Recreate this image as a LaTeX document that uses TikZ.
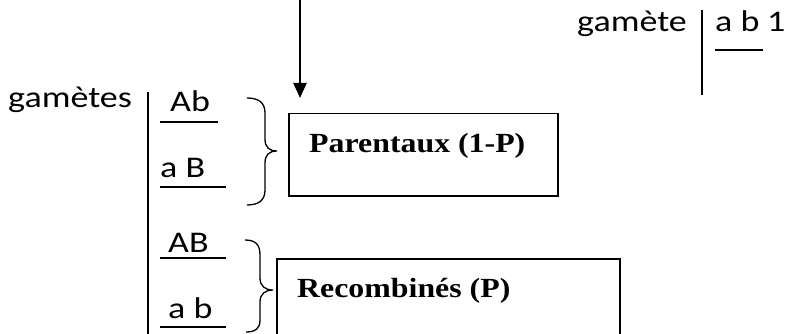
\documentclass[tikz,border=0pt]{standalone}
\usepackage{fontspec}
\setmainfont{Liberation Serif}
\newfontfamily\calfont{Carlito}
\usetikzlibrary{arrows.meta}
\tikzset{
 lbl/.style={inner sep=0pt, anchor=base west, font=\calfont\fontsize{30}{35}\selectfont},
 box/.style={draw, line width=1.5pt, inner sep=0pt, anchor=north west},
 btxt/.style={inner sep=0pt, anchor=base west, font=\bfseries\fontsize{27.7}{32}\selectfont},
 uline/.style={line width=1.4pt},
 vline/.style={line width=1.1pt},
 brc/.style={line width=1.3pt},
 arr/.style={line width=2pt, -{Triangle[width=13pt,length=15pt]}},
}
\newcommand{\wide}[1]{\scalebox{1.2}[1]{#1}}
\newcommand{\widet}[1]{\scalebox{1.15}[1]{#1}}
\begin{document}
\begin{tikzpicture}[x=1pt,y=-1pt]
\useasboundingbox (0,0) rectangle (787,334);
\clip (0,0) rectangle (787,334);
% boxes
\node[box, minimum width=269pt, minimum height=82pt] (par) at (288,113) {};
\node[box, minimum width=343pt, minimum height=92pt] (rec) at (276,258) {};
\node[btxt] (partxt) at (309,153) {\widet{Parentaux (1-P)}};
\node[btxt] (rectxt) at (297,297) {\widet{Recombinés (P)}};
% arrow
\coordinate (atop) at (300,0);
\coordinate (atip) at (300,98);
\draw[arr] (atop) -- (atip);
% left labels
\node[lbl] (gam1) at (8,108) {\wide{gamètes}};
\node[lbl] (g1) at (170,112) {\wide{Ab}};
\node[lbl] (g2) at (160,177) {\wide{a B}};
\node[lbl] (g3) at (168,252) {\wide{AB}};
\node[lbl] (g4) at (168,318) {\wide{a b}};
\draw[vline] (148,92) -- (148,334);
\draw[uline] (160,122) -- (218,122);
\draw[uline] (160,187) -- (226,187);
\draw[uline] (160,258) -- (226,258);
\draw[uline] (160,327) -- (226,327);
% braces
\draw[brc] (247,98) .. controls (259,98) and (265,103) .. (265,113) -- (265,139) .. controls (265,147) and (269,151) .. (277,151) .. controls (269,151) and (265,155) .. (265,163) -- (265,190) .. controls (265,200) and (259,205) .. (247,205);
\draw[brc] (245,240) .. controls (256,240) and (260,245) .. (260,255) -- (260,278) .. controls (260,286) and (265,290) .. (273,290) .. controls (265,290) and (260,294) .. (260,302) -- (260,320) .. controls (260,328) and (256,332) .. (246,332);
% top right
\node[lbl] (gam2) at (577,32) {\wide{gamète}};
\node[lbl] (ab3) at (715,32) {\wide{a b}};
\node[lbl] (one) at (767,32) {\wide{1}};
\draw[vline] (702,10) -- (702,95);
\draw[uline] (715,50) -- (763,50);
\end{tikzpicture}
\end{document}
